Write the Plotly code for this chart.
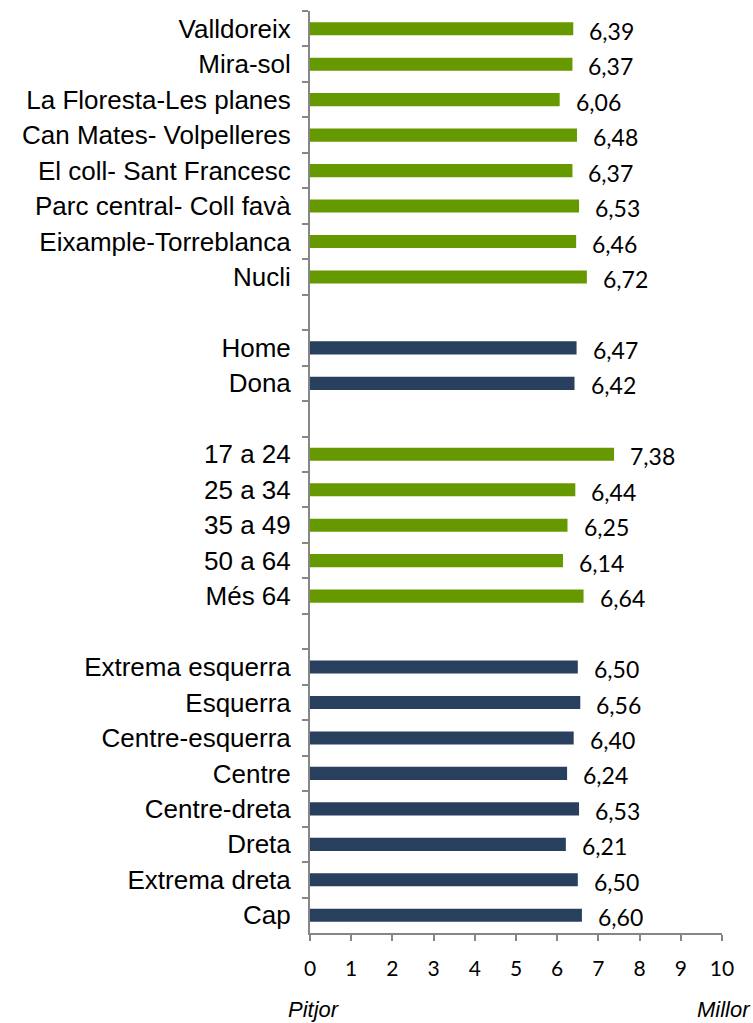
import plotly.graph_objects as go

# Survey scores (0 = Pitjor, 10 = Millor) by segment
barri_labels = ["Valldoreix", "Mira-sol", "La Floresta-Les planes", "Can Mates- Volpelleres",
                "El coll- Sant Francesc", "Parc central- Coll favà", "Eixample-Torreblanca", "Nucli"]
barri_values = [6.39, 6.37, 6.06, 6.48, 6.37, 6.53, 6.46, 6.72]

sexe_labels = ["Home", "Dona"]
sexe_values = [6.47, 6.42]

edat_labels = ["17 a 24", "25 a 34", "35 a 49", "50 a 64", "Més 64"]
edat_values = [7.38, 6.44, 6.25, 6.14, 6.64]

ideo_labels = ["Extrema esquerra", "Esquerra", "Centre-esquerra", "Centre",
               "Centre-dreta", "Dreta", "Extrema dreta", "Cap"]
ideo_values = [6.50, 6.56, 6.40, 6.24, 6.53, 6.21, 6.50, 6.60]

x_ticks = list(range(0, 11))

GREEN = "#669900"
NAVY = "#283f5e"
AXIS_GREY = "#868686"

groups = [
    (barri_labels, barri_values, GREEN),
    (sexe_labels, sexe_values, NAVY),
    (edat_labels, edat_values, GREEN),
    (ideo_labels, ideo_values, NAVY),
]

# Category order with blank spacer rows between groups
order = []
spacers = []
for i, (labels, _, _) in enumerate(groups):
    if i > 0:
        sp = " " * i
        spacers.append(sp)
        order.append(sp)
    order.extend(labels)

fig = go.Figure()

for labels, values, color in groups:
    fig.add_trace(go.Bar(
        x=values, y=labels, orientation="h",
        marker=dict(color=color, line=dict(width=0)),
        hoverinfo="x+y", showlegend=False,
    ))

# invisible trace so the spacer rows exist on the category axis
fig.add_trace(go.Bar(x=[None] * len(spacers), y=spacers, orientation="h",
                     showlegend=False, hoverinfo="skip"))

# value labels to the right of each bar
for labels, values, color in groups:
    for lab, val in zip(labels, values):
        fig.add_annotation(
            x=val, y=lab, xref="x", yref="y",
            text=f"{val:.2f}".replace(".", ","),
            showarrow=False, xanchor="left", yanchor="middle",
            xshift=14, yshift=-2,
            font=dict(family="Lato", size=23, color="#000000"),
        )

fig.add_annotation(x=-0.058, y=-0.0835, xref="paper", yref="paper",
                   text="<i>Pitjor</i>", showarrow=False,
                   xanchor="left", yanchor="middle",
                   font=dict(family="Liberation Sans", size=22, color="#000000"))
fig.add_annotation(x=1.075, y=-0.0835, xref="paper", yref="paper",
                   text="<i>Millor</i>", showarrow=False,
                   xanchor="right", yanchor="middle",
                   font=dict(family="Liberation Sans", size=22, color="#000000"))

fig.update_layout(
    width=753, height=1023,
    margin=dict(l=310, r=31, t=11, b=90),
    paper_bgcolor="#ffffff", plot_bgcolor="#ffffff",
    bargap=0.63, barmode="overlay",
    xaxis=dict(
        range=[0, 10], tickvals=x_ticks, ticktext=[str(v) for v in x_ticks],
        showgrid=False, zeroline=False,
        showline=True, linecolor=AXIS_GREY, linewidth=2,
        ticks="outside", ticklen=6, tickwidth=1.5, tickcolor=AXIS_GREY,
        ticklabelstandoff=10,
        tickfont=dict(family="Lato", size=21, color="#000000"),
        fixedrange=True,
    ),
    yaxis=dict(
        type="category", categoryorder="array", categoryarray=order,
        range=[len(order) - 0.5, -0.5],
        showgrid=False, zeroline=False,
        showline=True, linecolor=AXIS_GREY, linewidth=2,
        ticks="outside", tickson="boundaries", ticklen=6, tickwidth=1.5,
        tickcolor=AXIS_GREY, ticklabelstandoff=12,
        tickfont=dict(family="Liberation Sans", size=26, color="#000000"),
        fixedrange=True,
    ),
)

fig.write_html("out.html")
